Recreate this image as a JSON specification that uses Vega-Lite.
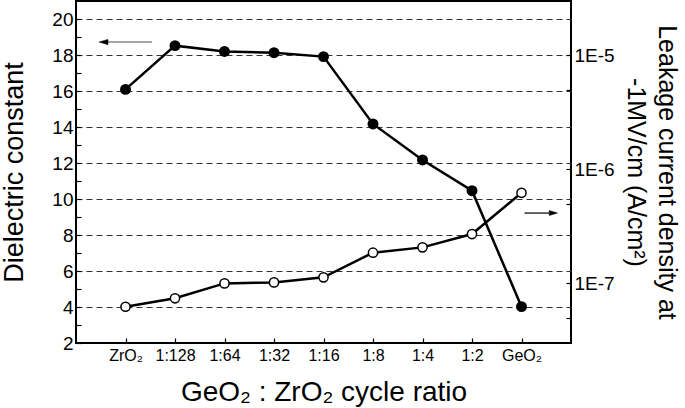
{
  "$schema": "https://vega.github.io/schema/vega-lite/v6.json",
  "width": 495,
  "height": 342,
  "autosize": {"type": "none"},
  "padding": {"left": 76, "top": 1, "right": 114, "bottom": 65},
  "background": "white",
  "config": {
    "view": {"stroke": "black", "strokeWidth": 2},
    "font": "Liberation Sans",
    "axis": {
      "labelFont": "Liberation Sans",
      "titleFont": "Liberation Sans",
      "labelColor": "black",
      "titleColor": "black",
      "titleFontWeight": "normal",
      "tickColor": "black",
      "tickWidth": 1.2,
      "domain": false,
      "labelOverlap": false
    }
  },
  "data": {
    "values": [
      {"ratio": "ZrO₂", "k": 16.09, "j": 6.24e-8},
      {"ratio": "1:128", "k": 18.52, "j": 7.4e-8},
      {"ratio": "1:64", "k": 18.2, "j": 1.0e-7},
      {"ratio": "1:32", "k": 18.13, "j": 1.02e-7},
      {"ratio": "1:16", "k": 17.91, "j": 1.13e-7},
      {"ratio": "1:8", "k": 14.17, "j": 1.86e-7},
      {"ratio": "1:4", "k": 12.17, "j": 2.07e-7},
      {"ratio": "1:2", "k": 10.46, "j": 2.71e-7},
      {"ratio": "GeO₂", "k": 4.02, "j": 6.23e-7}
    ]
  },
  "encoding": {
    "x": {
      "field": "ratio",
      "type": "ordinal",
      "scale": {
        "type": "point",
        "padding": 1,
        "domain": ["ZrO₂", "1:128", "1:64", "1:32", "1:16", "1:8", "1:4", "1:2", "GeO₂"]
      },
      "axis": {
        "title": "GeO₂ : ZrO₂ cycle ratio",
        "titleFontSize": 28,
        "titlePadding": 15,
        "labelFontSize": 16,
        "labelAngle": 0,
        "labelPadding": 9,
        "tickSize": -5,
        "grid": false
      }
    }
  },
  "layer": [
    {
      "encoding": {
        "y": {
          "field": "k",
          "type": "quantitative",
          "scale": {"domain": [2, 21], "nice": false, "zero": false},
          "axis": {
            "orient": "left",
            "title": "Dielectric constant",
            "titleFontSize": 27,
            "titlePadding": 23,
            "labelFontSize": 19,
            "labelPadding": 8,
            "values": [2, 3, 4, 5, 6, 7, 8, 9, 10, 11, 12, 13, 14, 15, 16, 17, 18, 19, 20],
            "labelExpr": "datum.value % 2 === 0 ? datum.label : ''",
            "tickSize": -5,
            "grid": true,
            "gridColor": "#333333",
            "gridDash": [6, 4],
            "gridWidth": 1,
            "gridOpacity": {"condition": {"test": "datum.value % 2 === 1 || datum.value === 2", "value": 0}, "value": 1}
          }
        }
      },
      "layer": [
        {"mark": {"type": "line", "color": "black", "strokeWidth": 2.5}},
        {"mark": {"type": "point", "filled": true, "color": "black", "size": 120, "opacity": 1}},
        {
          "data": {"values": [{"ratio": "ZrO₂", "k": 18.72}]},
          "layer": [
            {"mark": {"type": "point", "shape": "M-0.66,0L1,0", "size": 2809, "filled": false, "stroke": "#888888", "strokeWidth": 1.5, "opacity": 1}},
            {"mark": {"type": "point", "shape": "M-1,0L-0.66,-0.1L-0.66,0.1Z", "size": 2809, "filled": true, "fill": "black", "stroke": "black", "strokeWidth": 0.5, "opacity": 1}}
          ]
        },
        {
          "data": {"values": [{"ratio": "GeO₂", "k": 9.22}]},
          "layer": [
            {"mark": {"type": "point", "shape": "M-1,0L0.5,0", "size": 1089, "xOffset": 19.5, "filled": false, "stroke": "black", "strokeWidth": 1.2, "opacity": 1}},
            {"mark": {"type": "point", "shape": "M1,0L0.5,-0.15L0.5,0.15Z", "size": 1089, "xOffset": 19.5, "filled": true, "fill": "black", "stroke": "black", "strokeWidth": 0.5, "opacity": 1}}
          ]
        }
      ]
    },
    {
      "encoding": {
        "y": {
          "field": "j",
          "type": "quantitative",
          "scale": {"type": "log", "domain": [3e-8, 3e-5], "nice": false},
          "axis": {
            "orient": "right",
            "title": ["Leakage current density at", "-1MV/cm (A/cm²)"],
            "titleFontSize": 25,
            "titleLineHeight": 31,
            "titlePadding": 8,
            "labelFontSize": 19,
            "labelPadding": 8,
            "values": [5e-8, 1e-7, 5e-7, 1e-6, 5e-6, 1e-5],
            "labelExpr": "abs(log(datum.value)/LN10 - round(log(datum.value)/LN10)) < 0.01 ? '1E' + round(log(datum.value)/LN10) : ''",
            "tickSize": -5,
            "grid": false
          }
        }
      },
      "layer": [
        {"mark": {"type": "line", "color": "black", "strokeWidth": 2.5}},
        {"mark": {"type": "point", "filled": true, "fill": "white", "stroke": "black", "strokeWidth": 1.5, "size": 85, "opacity": 1}}
      ]
    }
  ],
  "resolve": {"scale": {"y": "independent"}}
}
